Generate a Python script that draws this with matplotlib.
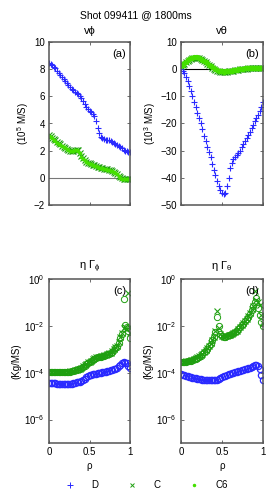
import numpy as np
import matplotlib
matplotlib.use('Agg')
import matplotlib.pyplot as plt
from matplotlib.lines import Line2D

plt.rcParams['font.family'] = ['Liberation Sans', 'DejaVu Sans']
plt.rcParams['mathtext.fontset'] = 'custom'
plt.rcParams['mathtext.rm'] = 'Liberation Sans'

# normalized radius, 51 samples
rho = np.linspace(0, 1, 51)

# v_phi (10^5 m/s)
vphi_D = [8.45, 8.38, 8.3, 8.18, 8.05, 7.9, 7.75, 7.58, 7.4, 7.25,
          7.1, 6.95, 6.8, 6.67, 6.55, 6.45, 6.35, 6.25, 6.15, 6.05,
          5.9, 5.65, 5.4, 5.2, 5.05, 4.95, 4.85, 4.72, 4.55, 4.2,
          3.7, 3.3, 3.0, 2.9, 2.85, 2.8, 2.78, 2.75, 2.72, 2.67,
          2.6, 2.52, 2.42, 2.33, 2.25, 2.16, 2.08, 2.0, 1.95, 1.92, 1.9]
vphi_C = [3.15, 3.05, 2.95, 2.85, 2.75, 2.65, 2.55, 2.46, 2.38, 2.3,
          2.22, 2.15, 2.08, 2.0, 1.95, 1.98, 2.05, 2.08, 2.02, 1.85,
          1.6, 1.45, 1.3, 1.2, 1.12, 1.07, 1.02, 0.97, 0.92, 0.87,
          0.82, 0.78, 0.75, 0.72, 0.68, 0.65, 0.62, 0.58, 0.55, 0.5,
          0.45, 0.37, 0.28, 0.16, 0.05, -0.02, -0.08, -0.1, -0.12, -0.11, -0.1]
vphi_C6 = [3.08, 3.0, 2.9, 2.8, 2.7, 2.6, 2.5, 2.42, 2.34, 2.27,
           2.2, 2.12, 2.05, 1.98, 1.96, 2.0, 2.06, 2.06, 1.98, 1.8,
           1.56, 1.42, 1.28, 1.18, 1.1, 1.05, 1.0, 0.95, 0.9, 0.85,
           0.8, 0.76, 0.73, 0.7, 0.66, 0.63, 0.6, 0.56, 0.53, 0.48,
           0.42, 0.34, 0.25, 0.13, 0.02, -0.05, -0.1, -0.1, -0.08, -0.06, -0.05]

# v_theta (10^3 m/s)
vth_D = [0, -0.5, -1.5, -3, -4.5, -6.2, -8, -10, -12, -14,
         -16, -18, -20, -22.2, -24.5, -26.5, -28.5, -30.5, -32.5, -34.8,
         -37, -39, -41, -43, -44.5, -45.5, -46, -45.5, -43, -40,
         -36.5, -34.5, -33, -32.2, -31.5, -30.8, -30, -28.8, -27.5, -26.5,
         -25.5, -24.2, -23, -21.8, -20.5, -19.2, -18, -16.8, -15.5, -14, -12]
vth_C = [1.0, 1.5, 2.0, 2.5, 3.0, 3.4, 3.8, 4.0, 4.2, 4.25,
         4.2, 4.05, 3.8, 3.45, 3.0, 2.5, 2.0, 1.5, 1.0, 0.6,
         0.2, -0.15, -0.5, -0.7, -0.9, -0.95, -1.0, -0.95, -0.9, -0.8,
         -0.7, -0.6, -0.5, -0.4, -0.3, -0.2, -0.1, 0.0, 0.1, 0.15,
         0.2, 0.25, 0.3, 0.35, 0.4, 0.45, 0.5, 0.5, 0.5, 0.5, 0.5]
vth_C6 = [1.2, 1.7, 2.2, 2.7, 3.2, 3.6, 4.0, 4.2, 4.4, 4.45,
          4.35, 4.2, 3.9, 3.55, 3.1, 2.6, 2.1, 1.6, 1.1, 0.7,
          0.3, -0.05, -0.4, -0.6, -0.8, -0.85, -0.9, -0.85, -0.8, -0.7,
          -0.6, -0.5, -0.4, -0.3, -0.2, -0.1, 0.0, 0.1, 0.2, 0.25,
          0.3, 0.35, 0.4, 0.45, 0.5, 0.55, 0.6, 0.6, 0.6, 0.6, 0.6]

# eta Gamma_phi (kg/ms)
gphi_D = [3.7e-5, 3.6e-5, 3.5e-5, 3.5e-5, 3.5e-5, 3.45e-5, 3.4e-5, 3.35e-5, 3.3e-5, 3.25e-5,
          3.2e-5, 3.2e-5, 3.2e-5, 3.3e-5, 3.4e-5, 3.55e-5, 3.7e-5, 3.85e-5, 4.0e-5, 4.2e-5,
          4.5e-5, 5.0e-5, 5.6e-5, 6.3e-5, 7.1e-5, 7.7e-5, 8.3e-5, 8.6e-5, 8.9e-5, 9.2e-5,
          9.5e-5, 9.8e-5, 1.0e-4, 1.03e-4, 1.07e-4, 1.1e-4, 1.15e-4, 1.2e-4, 1.26e-4, 1.33e-4,
          1.4e-4, 1.5e-4, 1.66e-4, 1.9e-4, 2.2e-4, 2.5e-4, 2.8e-4, 2.7e-4, 2.5e-4, 2.0e-4, 1.6e-4]
gphi_C = [1.1e-4, 1.1e-4, 1.1e-4, 1.11e-4, 1.12e-4, 1.12e-4, 1.12e-4, 1.12e-4, 1.12e-4, 1.11e-4,
          1.1e-4, 1.1e-4, 1.1e-4, 1.13e-4, 1.17e-4, 1.23e-4, 1.3e-4, 1.35e-4, 1.4e-4, 1.5e-4,
          1.6e-4, 1.85e-4, 2.1e-4, 2.4e-4, 2.8e-4, 3.0e-4, 3.3e-4, 3.8e-4, 4.2e-4, 4.5e-4,
          4.8e-4, 4.9e-4, 5.0e-4, 5.3e-4, 5.6e-4, 5.9e-4, 6.3e-4, 6.7e-4, 7.1e-4, 8.5e-4,
          1.0e-3, 1.2e-3, 1.4e-3, 2.1e-3, 3.2e-3, 5.0e-3, 7.9e-3, 9.0e-3, 7.0e-3, 2.5e-1, 5.0e-3]
gphi_C6 = [1.05e-4, 1.05e-4, 1.06e-4, 1.07e-4, 1.08e-4, 1.08e-4, 1.08e-4, 1.08e-4, 1.08e-4, 1.07e-4,
           1.06e-4, 1.06e-4, 1.06e-4, 1.1e-4, 1.15e-4, 1.2e-4, 1.28e-4, 1.33e-4, 1.38e-4, 1.46e-4,
           1.55e-4, 1.8e-4, 2.0e-4, 2.3e-4, 2.7e-4, 2.9e-4, 3.2e-4, 3.6e-4, 4.0e-4, 4.3e-4,
           4.6e-4, 4.75e-4, 4.9e-4, 5.1e-4, 5.4e-4, 5.7e-4, 6.1e-4, 6.5e-4, 6.9e-4, 8.0e-4,
           9.5e-4, 1.1e-3, 1.3e-3, 1.9e-3, 3.0e-3, 4.5e-3, 1.4e-1, 1.1e-2, 9.0e-3, 6.0e-3, 3.0e-3]

# eta Gamma_theta (kg/ms)
gth_D = [8.5e-5, 8.2e-5, 7.9e-5, 7.5e-5, 7.1e-5, 6.7e-5, 6.3e-5, 6.1e-5, 5.9e-5, 5.7e-5,
         5.5e-5, 5.35e-5, 5.2e-5, 5.1e-5, 5.0e-5, 4.9e-5, 4.8e-5, 4.75e-5, 4.7e-5, 4.7e-5,
         4.7e-5, 4.8e-5, 5.0e-5, 5.5e-5, 6.0e-5, 6.5e-5, 7.1e-5, 7.5e-5, 7.9e-5, 8.4e-5,
         8.9e-5, 9.4e-5, 1.0e-4, 1.05e-4, 1.1e-4, 1.15e-4, 1.2e-4, 1.25e-4, 1.3e-4, 1.4e-4,
         1.5e-4, 1.55e-4, 1.6e-4, 1.75e-4, 1.9e-4, 2.05e-4, 2.2e-4, 1.9e-4, 1.4e-4, 8.0e-5, 5.0e-5]
gth_C = [3.0e-4, 3.0e-4, 3.0e-4, 3.1e-4, 3.2e-4, 3.3e-4, 3.4e-4, 3.6e-4, 3.8e-4, 4.1e-4,
         4.5e-4, 5.0e-4, 5.6e-4, 6.5e-4, 7.6e-4, 9.0e-4, 1.1e-3, 1.4e-3, 1.8e-3, 2.5e-3,
         3.5e-3, 6.0e-3, 4.5e-2, 8.0e-3, 4.5e-3, 3.8e-3, 3.5e-3, 3.6e-3, 3.8e-3, 4.0e-3,
         4.2e-3, 4.6e-3, 5.0e-3, 5.6e-3, 6.3e-3, 7.5e-3, 8.9e-3, 1.1e-2, 1.3e-2, 1.6e-2,
         2.0e-2, 2.6e-2, 3.5e-2, 5.0e-2, 7.1e-2, 3.0e-1, 1.3e-1, 1.0e-1, 7.9e-2, 3.0e-2, 1.3e-2]
gth_C6 = [2.9e-4, 2.9e-4, 2.95e-4, 3.0e-4, 3.1e-4, 3.2e-4, 3.3e-4, 3.5e-4, 3.7e-4, 4.0e-4,
          4.4e-4, 4.9e-4, 5.4e-4, 6.3e-4, 7.4e-4, 8.8e-4, 1.05e-3, 1.35e-3, 1.7e-3, 2.4e-3,
          3.3e-3, 5.5e-3, 2.5e-2, 1.0e-2, 4.3e-3, 3.7e-3, 3.4e-3, 3.5e-3, 3.7e-3, 3.9e-3,
          4.1e-3, 4.5e-3, 4.8e-3, 5.4e-3, 6.1e-3, 7.3e-3, 8.6e-3, 1.05e-2, 1.25e-2, 1.55e-2,
          1.9e-2, 2.5e-2, 3.3e-2, 4.8e-2, 6.8e-2, 1.0e-1, 1.5e-1, 6.0e-2, 3.0e-2, 1.5e-2, 1.0e-2]

blue = '#2a2aff'
dgreen = '#1f9f10'
lgreen = '#44e000'
spine = '#555555'

fig = plt.figure(figsize=(2.72, 4.96), dpi=100)
W, H = 272, 496

def make_ax(x0, x1, ytop, ybot):
    ax = fig.add_axes([x0 / W, 1 - ybot / H, (x1 - x0) / W, (ybot - ytop) / H])
    ax.tick_params(direction='in', top=True, right=True, labelsize=7, length=2.5,
                   width=0.6, color=spine, pad=3)
    for s in ax.spines.values():
        s.set_color(spine)
        s.set_linewidth(1.1)
    ax.set_xlim(0, 1)
    ax.set_xticks([0, 0.5, 1])
    return ax

ax_a = make_ax(49, 130, 42, 205)
ax_b = make_ax(181, 263, 42, 205)
ax_c = make_ax(49, 130, 279, 443)
ax_d = make_ax(181, 263, 279, 443)

# (a) v_phi
ax_a.axhline(0, color='#777777', lw=0.8)
ax_a.plot(rho, vphi_D, '+', color=blue, ms=5, mew=0.8)
ax_a.plot(rho, vphi_C, 'x', color=dgreen, ms=4.5, mew=0.8)
ax_a.plot(rho, vphi_C6, '.', color=lgreen, ms=3.5)
ax_a.set_ylim(-2, 10)
ax_a.set_yticks([-2, 0, 2, 4, 6, 8, 10])
ax_a.set_xticklabels([])
ax_a.set_ylabel('(10$^5$ M/S)', fontsize=7, labelpad=2)
ax_a.set_title('vϕ', fontsize=8, pad=6)
ax_a.text(0.95, 0.96, '(a)', transform=ax_a.transAxes, ha='right', va='top', fontsize=8)

# (b) v_theta
ax_b.axhline(0, color='black', lw=0.8)
ax_b.plot(rho, vth_D, '+', color=blue, ms=5, mew=0.8)
ax_b.plot(rho, vth_C, 'x', color=dgreen, ms=4.5, mew=0.8)
ax_b.plot(rho, vth_C6, '.', color=lgreen, ms=5.5)
ax_b.set_ylim(-50, 10)
ax_b.set_yticks([-50, -40, -30, -20, -10, 0, 10])
ax_b.set_xticklabels([])
ax_b.set_ylabel('(10$^3$ M/S)', fontsize=7, labelpad=2)
ax_b.set_title('vθ', fontsize=8, pad=6)
ax_b.text(0.95, 0.96, '(b)', transform=ax_b.transAxes, ha='right', va='top', fontsize=8)

# (c), (d) viscous fluxes, log scale
for ax, d, c, c6, lab, ttl in [
        (ax_c, gphi_D, gphi_C, gphi_C6, '(c)', r'η Γ$_{\mathregular{\phi}}$'),
        (ax_d, gth_D, gth_C, gth_C6, '(d)', r'η Γ$_{\mathregular{\theta}}$')]:
    ax.set_yscale('log')
    ax.plot(rho, d, 'o', color=blue, ms=4.5, mfc='none', mew=0.9)
    ax.plot(rho, c, 'x', color=dgreen, ms=4.5, mew=0.8)
    ax.plot(rho, c6, 'o', color=dgreen, ms=4.5, mfc='none', mew=0.7)
    ax.set_ylim(1e-7, 1)
    ax.set_yticks([1e-6, 1e-4, 1e-2, 1])
    ax.minorticks_off()
    ax.set_xticklabels(['0', '0.5', '1'])
    ax.set_xlabel('ρ', fontsize=7, labelpad=3)
    ax.set_ylabel('(Kg/MS)', fontsize=7, labelpad=2)
    ax.set_title(ttl, fontsize=8, pad=7)
    ax.text(0.95, 0.96, lab, transform=ax.transAxes, ha='right', va='top', fontsize=8)

fig.text(0.5, 1 - 15 / H, 'Shot 099411 @ 1800ms', ha='center', va='center', fontsize=7.5)

handles = [Line2D([], [], ls='none', marker='+', color=blue, ms=4, mew=0.7),
           Line2D([], [], ls='none', marker='x', color=dgreen, ms=3.5, mew=0.7),
           Line2D([], [], ls='none', marker='.', color=lgreen, ms=3)]
fig.legend(handles, ['D', 'C', 'C6'], loc='center', bbox_to_anchor=(0.53, 1 - 485 / H),
           ncol=3, frameon=False, fontsize=7, handlelength=2, handletextpad=1.2,
           columnspacing=2.5)

fig.savefig('out.png', dpi=100)
